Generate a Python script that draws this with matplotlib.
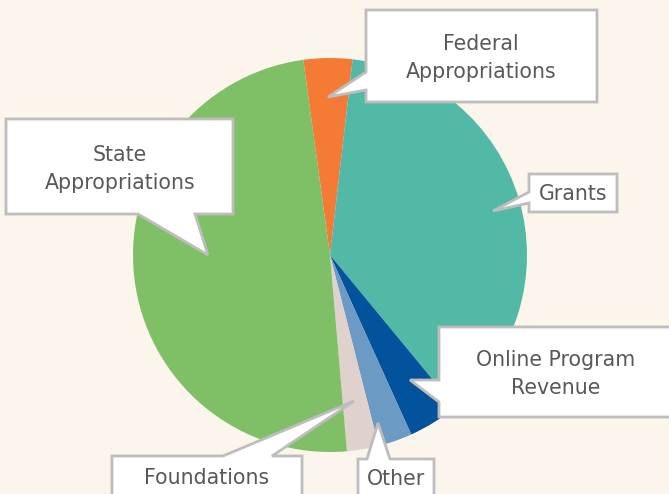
import numpy as np
import matplotlib.pyplot as plt
from matplotlib.patches import Polygon

# Data (percent of revenue), clockwise from the top
labels = ["Federal\nAppropriations", "Grants", "Online Program\nRevenue",
          "Other", "Foundations", "State\nAppropriations"]
values = [4.0, 37.2, 4.2, 2.8, 2.6, 49.2]
colors = ["#F47A35", "#52B9A7", "#03529C", "#6B9AC4", "#DFD1CC", "#7FBF65"]

W, H = 669, 494
BG = "#FBF5EC"

fig = plt.figure(figsize=(W / 100, H / 100), dpi=100)
fig.patch.set_facecolor(BG)
ax = fig.add_axes([0, 0, 1, 1])
ax.set_facecolor(BG)


def Y(y):
    # image pixel row -> data y
    return H - y


ax.pie(values, colors=colors, startangle=97.8, counterclock=False,
       center=(330, Y(255)), radius=197, wedgeprops=dict(linewidth=0))


def callout(box, tail, text, tpos):
    x0, y0, x1, y1 = box
    side, a, b, tip = tail
    tip = (tip[0], Y(tip[1]))
    # corners in image coords, clockwise starting top-left
    if side == "left":
        pts = [(x0, y0), (x1, y0), (x1, y1), (x0, y1), (x0, b), tip, (x0, a)]
    elif side == "top":
        pts = [(x0, y0), (a, y0), tip, (b, y0), (x1, y0), (x1, y1), (x0, y1)]
    else:  # bottom
        pts = [(x0, y0), (x1, y0), (x1, y1), (b, y1), tip, (a, y1), (x0, y1)]
    pts = [p if p is tip else (p[0], Y(p[1])) for p in pts]
    ax.add_patch(Polygon(pts, closed=True, facecolor="white",
                         edgecolor="#BDBDBD", linewidth=2, joinstyle="miter",
                         zorder=5))
    ax.text(tpos[0], Y(tpos[1]), text, ha="center", va="center",
            fontsize=14.8, color="#595959", linespacing=1.55, zorder=6)


callout((366, 10, 597, 102), ("left", 72, 90, (328, 97)), labels[0], (481, 58))
callout((529, 174, 617, 212), ("left", 192, 203, (493, 211)), labels[1], (573, 194))
callout((439, 327, 680, 417), ("left", 380, 402, (410, 380)), labels[2], (556, 374))
callout((358, 459, 434, 520), ("top", 367, 390, (378, 423)), labels[3], (396, 479))
callout((112, 456, 302, 520), ("top", 223, 272, (354, 401)), labels[4], (207, 478))
callout((6, 119, 233, 214), ("bottom", 138, 195, (208, 255)), labels[5], (120, 169))

ax.set_xlim(0, W)
ax.set_ylim(0, H)
ax.set_aspect("equal")
ax.axis("off")

fig.savefig("out.png", dpi=100, facecolor=BG)
